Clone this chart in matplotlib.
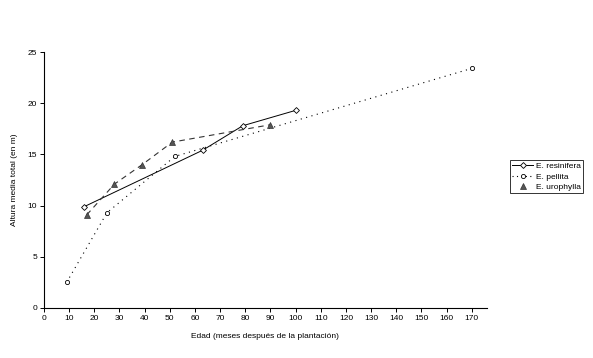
import matplotlib.pyplot as plt
from matplotlib.lines import Line2D

plt.rcParams['font.family'] = ['Liberation Sans', 'DejaVu Sans']

# E. resinifera
res_x = [16, 63, 79, 100]
res_y = [9.9, 15.4, 17.8, 19.3]
# E. pellita
pel_x = [9, 25, 52, 170]
pel_y = [2.5, 9.3, 14.8, 23.4]
# E. urophylla
uro_x = [17, 28, 39, 51, 90]
uro_y = [9.1, 12.1, 14.0, 16.2, 17.9]

xticks = list(range(0, 180, 10))
yticks = [0, 5, 10, 15, 20, 25]

fig = plt.figure(figsize=(5.93, 3.58), dpi=100)
ax = fig.add_axes([0.0742, 0.1397, 0.7468, 0.715])

ax.plot(res_x, res_y, color='black', lw=0.7, marker='D', ms=3,
        mfc='white', mec='black', mew=0.6)
ax.plot(pel_x, pel_y, color='black', lw=0.8, ls=(0, (1, 4)), marker='o', ms=3,
        mfc='white', mec='black', mew=0.6)
ax.plot(uro_x, uro_y, color='#333333', lw=0.8, ls=(0, (5, 4)), marker='^', ms=4,
        mfc='#555555', mec='#333333', mew=0.5)

ax.set_xlim(0, 176)
ax.set_ylim(0, 25)
ax.set_xticks(xticks)
ax.set_yticks(yticks)
ax.tick_params(labelsize=6, length=3, width=0.7, direction='out', pad=2)
for s in ['top', 'right']:
    ax.spines[s].set_visible(False)
for s in ['left', 'bottom']:
    ax.spines[s].set_linewidth(0.8)

ax.set_xlabel('Edad (meses después de la plantación)', fontsize=6, labelpad=8)
ax.set_ylabel('Altura media total (en m)', fontsize=6, labelpad=7)

handles = [
    Line2D([], [], color='black', lw=0.7, marker='D', ms=3, mfc='white', mec='black', mew=0.6),
    Line2D([], [], color='black', lw=0.8, ls=(0, (1, 3)), marker='o', ms=3, mfc='white', mec='black', mew=0.6),
    Line2D([], [], ls='none', marker='^', ms=4, mfc='#555555', mec='#333333', mew=0.5),
]
leg = fig.legend(handles, ['E. resinifera', 'E. pellita', 'E. urophylla'],
                 loc='upper left', bbox_to_anchor=(0.853, 0.565), fontsize=6,
                 frameon=True, fancybox=False, edgecolor='black', borderpad=0.3,
                 handlelength=2.5, handletextpad=0.3, labelspacing=0.3)
leg.get_frame().set_linewidth(0.7)

fig.savefig('out.png', dpi=100)
